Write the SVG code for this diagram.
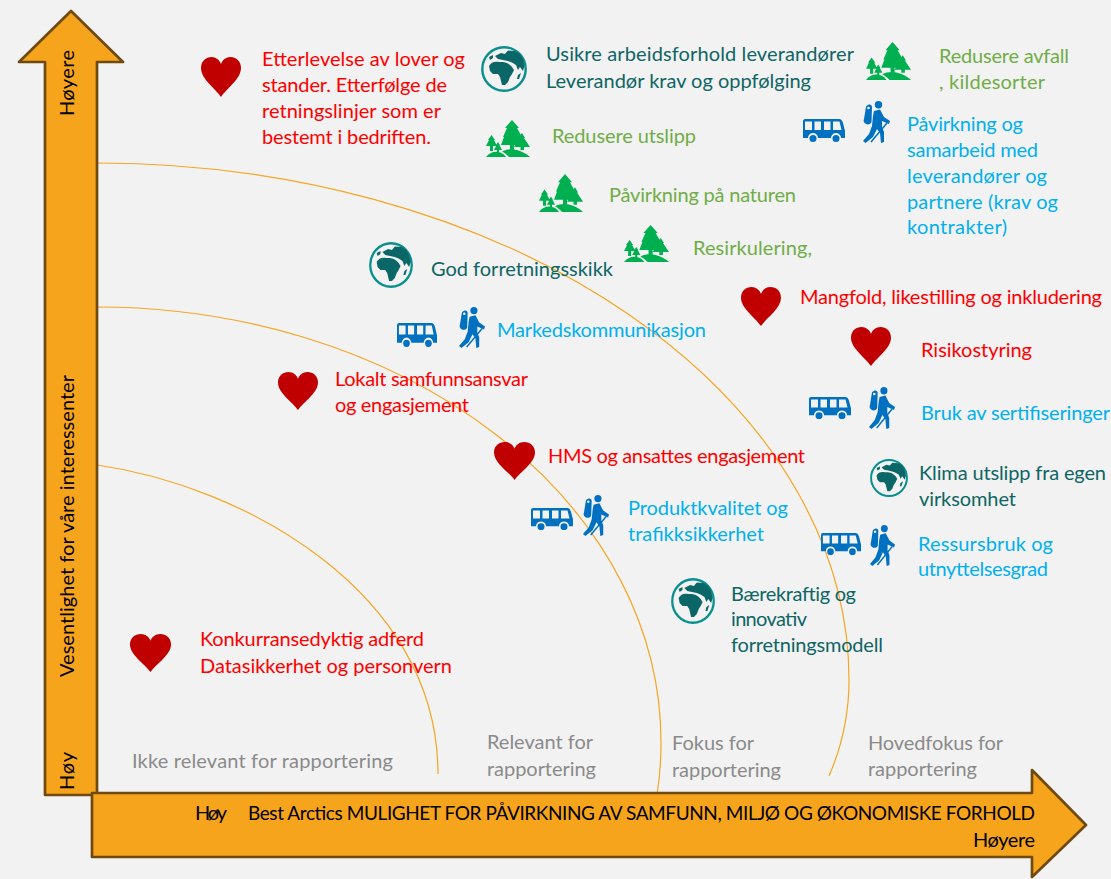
<svg xmlns="http://www.w3.org/2000/svg" width="1111" height="879" viewBox="0 0 1111 879">
<style>
text{font-family:"Lato","Liberation Sans",sans-serif;font-size:20px}
.r{fill:#ff0000}.t{fill:#0e6565}.g{fill:#70ad47}.b{fill:#00b0f0}.n{fill:#8a8a8a}.k{fill:#000}
.ax{fill:#f7a41d;stroke:#6f4a0f;stroke-width:2.7;stroke-linejoin:round}
.arc{fill:none;stroke:#f6a623;stroke-width:1.2}
</style>
<defs>
<symbol id="heart" viewBox="0 0 40 40" preserveAspectRatio="none"><path fill="#c00000" d="M20 40C14 31 0 22 0 11 0 4 5 0 10.500 0 15 0 18.500 3 20 7 21.500 3 25 0 29.500 0 35 0 40 4 40 11 40 22 26 31 20 40Z"/></symbol>
<symbol id="globe" viewBox="0 0 46 46" preserveAspectRatio="none"><circle cx="23" cy="23" r="21.700" fill="none" stroke="#0a8f8f" stroke-width="2.400"/><path fill="#0b6767" d="M8 20C10 16 14 15 18 16L22 16 26 17 29 19 31 21 33 24 31 28 29 31 27 36 24 39 21 39 20 35 19 31 17 28 12 28 9 25Z"/><path fill="#0b6767" d="M14 10 20 7 24 8 27 4.500 34 5 39 8 42 13 43.500 20 42 25 39 21 37 24 35 19 31 16.500 27 15 22 14 17 13Z"/><path fill="#0b6767" d="M8 11 12 9 12 12 9 14ZM37 29 40 27 38 33 36 33Z"/></symbol>
<symbol id="tree" viewBox="0 0 44 37" preserveAspectRatio="none"><path fill="#00b050" d="M26 0 33 8 31 8 36 17 34 17 38 25 28 25 28 30 24 30 24 25 15 25 18 17 17 17 21 8 19 8ZM5.500 15 9 20 8 20 11 26 7 26 7 31 4 31 4 26 0 26 3 20 2 20ZM36 13 39 18 38 18 44 27 38 27 38 30 34.500 30 34.500 27 28 27 33 18 32 18ZM12 22 14 25 13.500 25 16 30 13 30 13 33 11 33 11 30 8 30 10.500 25 10 25Z"/><path fill="#00b050" d="M0 37C3 33 8 31 12 32 15 32.500 18 34 20 37ZM16 31.500C20 29 26 28.500 31 30 36 31.500 41 34 44 37H23C21 35 19 33 16 31.500Z"/></symbol>
<symbol id="bus" viewBox="0 0 42 23" preserveAspectRatio="none"><path fill="#0070c0" d="M2 0H36C38 0 39 1 40 4L42 12V19H38A5 5 0 0 0 28 19H15A5 5 0 0 0 5 19H0V2C0 1 1 0 2 0Z"/><path fill="#f2f2f2" d="M2 2.500H9V11H2ZM11.500 2.500H18V11H11.500ZM21 2.500H27.500V11H21ZM30 2.500H36.500L38.500 11H30Z"/><circle cx="10" cy="19.500" r="3.500" fill="#0070c0"/><circle cx="33" cy="19.500" r="3.500" fill="#0070c0"/></symbol>
<symbol id="hiker" viewBox="0 0 27 42" preserveAspectRatio="none"><circle cx="15.500" cy="3.700" r="3.700" fill="#0070c0"/><path fill="#0070c0" d="M5 4C7 3 9 4 9 6L8.500 21C8 23 5 24 3 23 1 22 0 20 1 18L3 6C3 5 4 4.500 5 4Z"/><path fill="#0070c0" d="M11 10 17 8.500 21 16 27 20 26 23 19 20 19 26 21 31 21 41 18 42 17 32 14 28 10 36 2.500 42 0 40 6 33 9 25 10 15Z"/><path fill="none" stroke="#0070c0" stroke-width="1.500" d="M24 22 8 41"/><circle cx="5.500" cy="7" r="1.300" fill="#f2f2f2"/></symbol>
</defs>
<rect width="1111" height="879" fill="#f2f2f2"/>
<g id="bands">
<path class="arc" d="M97 163A752 517 0 0 1 849 680Q849 730 829 776"/>
<path class="arc" d="M97 307A564 435 0 0 1 661 742Q661 770 657 795"/>
<path class="arc" d="M97 465C240 485 438 590 438 774"/>
</g>
<g id="axis-y"><path class="ax" d="M71 11 123 62H97V795H45V62H19Z"/>
<text class="k" transform="translate(74 116) rotate(-90)" textLength="66">Høyere</text>
<text class="k" transform="translate(74 677) rotate(-90)" textLength="302">Vesentlighet for våre interessenter</text>
<text class="k" transform="translate(74 790) rotate(-90)" textLength="38">Høy</text></g>
<g id="axis-x"><path class="ax" d="M92 793H1032V770L1086 825 1032 877V857H92Z"/>
<text class="k" x="195" y="820" textLength="32">Høy</text>
<text class="k" x="248" y="820" textLength="787" style="font-size:19px">Best Arctics MULIGHET FOR PÅVIRKNING AV SAMFUNN, MILJØ OG ØKONOMISKE FORHOLD</text>
<text class="k" x="973" y="847" textLength="62">Høyere</text></g>
<g id="n-etterlevelse"><use href="#heart" x="201" y="57" width="40" height="40"/>
<text class="r" x="262" y="66" textLength="203">Etterlevelse av lover og</text><text class="r" x="262" y="92" textLength="185">stander. Etterfølge de</text><text class="r" x="262" y="118" textLength="179">retningslinjer som er</text><text class="r" x="262" y="144" textLength="169">bestemt i bedriften.</text></g>
<g id="n-usikre"><use href="#globe" x="481" y="46" width="46" height="46"/>
<text class="t" x="546" y="61" textLength="308">Usikre arbeidsforhold leverandører</text><text class="t" x="546" y="88" textLength="265">Leverandør krav og oppfølging</text></g>
<g id="n-avfall"><use href="#tree" x="866" y="42" width="45" height="38"/>
<text class="g" x="939" y="63" textLength="130">Redusere avfall</text><text class="g" x="939" y="89" textLength="106">, kildesorter</text></g>
<g id="n-utslipp"><use href="#tree" x="486" y="120" width="44" height="37"/><text class="g" x="552" y="143" textLength="144">Redusere utslipp</text></g>
<g id="n-natur"><use href="#tree" x="539" y="174" width="44" height="38"/><text class="g" x="609" y="202" textLength="187">Påvirkning på naturen</text></g>
<g id="n-resirk"><use href="#tree" x="624" y="225" width="45" height="37"/><text class="g" x="693" y="255" textLength="119">Resirkulering,</text></g>
<g id="n-skikk"><use href="#globe" x="369" y="242" width="44" height="46"/><text class="t" x="431" y="276" textLength="182">God forretningsskikk</text></g>
<g id="n-samarbeid"><use href="#bus" x="803" y="119" width="42" height="23"/><use href="#hiker" x="863" y="101" width="27" height="42"/>
<text class="b" x="907" y="131" textLength="116">Påvirkning og</text><text class="b" x="907" y="157" textLength="131">samarbeid med</text><text class="b" x="907" y="183" textLength="140">leverandører og</text><text class="b" x="907" y="209" textLength="151">partnere (krav og</text><text class="b" x="907" y="234" textLength="100">kontrakter)</text></g>
<g id="n-mangfold"><use href="#heart" x="741" y="287" width="40" height="39"/><text class="r" x="800" y="304" textLength="302">Mangfold, likestilling og inkludering</text></g>
<g id="n-marked"><use href="#bus" x="397" y="323" width="40" height="24"/><use href="#hiker" x="459" y="307" width="26" height="41"/><text class="b" x="497" y="337" textLength="209">Markedskommunikasjon</text></g>
<g id="n-risiko"><use href="#heart" x="851" y="327" width="40" height="39"/><text class="r" x="921" y="357" textLength="111">Risikostyring</text></g>
<g id="n-lokalt"><use href="#heart" x="278" y="372" width="40" height="38"/><text class="r" x="335" y="386" textLength="193">Lokalt samfunnsansvar</text><text class="r" x="335" y="412" textLength="134">og engasjement</text></g>
<g id="n-sert"><use href="#bus" x="809" y="397" width="42" height="22"/><use href="#hiker" x="869" y="387" width="26" height="42"/><text class="b" x="921" y="420" textLength="189">Bruk av sertifiseringer</text></g>
<g id="n-hms"><use href="#heart" x="494" y="442" width="41" height="38"/><text class="r" x="548" y="463" textLength="257">HMS og ansattes engasjement</text></g>
<g id="n-klima"><use href="#globe" x="870" y="459" width="38" height="38"/><text class="t" x="919" y="480" textLength="187">Klima utslipp fra egen</text><text class="t" x="919" y="506" textLength="97">virksomhet</text></g>
<g id="n-produkt"><use href="#bus" x="531" y="508" width="42" height="22"/><use href="#hiker" x="583" y="495" width="26" height="41"/><text class="b" x="628" y="515" textLength="160">Produktkvalitet og</text><text class="b" x="628" y="541" textLength="136">trafikksikkerhet</text></g>
<g id="n-ressurs"><use href="#bus" x="821" y="533" width="40" height="22"/><use href="#hiker" x="870" y="525" width="25" height="41"/><text class="b" x="918" y="551" textLength="135">Ressursbruk og</text><text class="b" x="918" y="576" textLength="130">utnyttelsesgrad</text></g>
<g id="n-baerekraft"><use href="#globe" x="671" y="578" width="44" height="46"/><text class="t" x="731" y="601" textLength="125">Bærekraftig og</text><text class="t" x="731" y="626" textLength="76">innovativ</text><text class="t" x="731" y="652" textLength="152">forretningsmodell</text></g>
<g id="n-konkurranse"><use href="#heart" x="130" y="634" width="41" height="38"/><text class="r" x="200" y="646" textLength="224">Konkurransedyktig adferd</text><text class="r" x="200" y="673" textLength="252">Datasikkerhet og personvern</text></g>
<g id="zone-labels">
<text class="n" x="132" y="768" textLength="261">Ikke relevant for rapportering</text>
<text class="n" x="487" y="749" textLength="106">Relevant for</text><text class="n" x="487" y="776" textLength="109">rapportering</text>
<text class="n" x="672" y="750" textLength="82">Fokus for</text><text class="n" x="672" y="777" textLength="109">rapportering</text>
<text class="n" x="868" y="750" textLength="135">Hovedfokus for</text><text class="n" x="868" y="776" textLength="109">rapportering</text>
</g>
</svg>
